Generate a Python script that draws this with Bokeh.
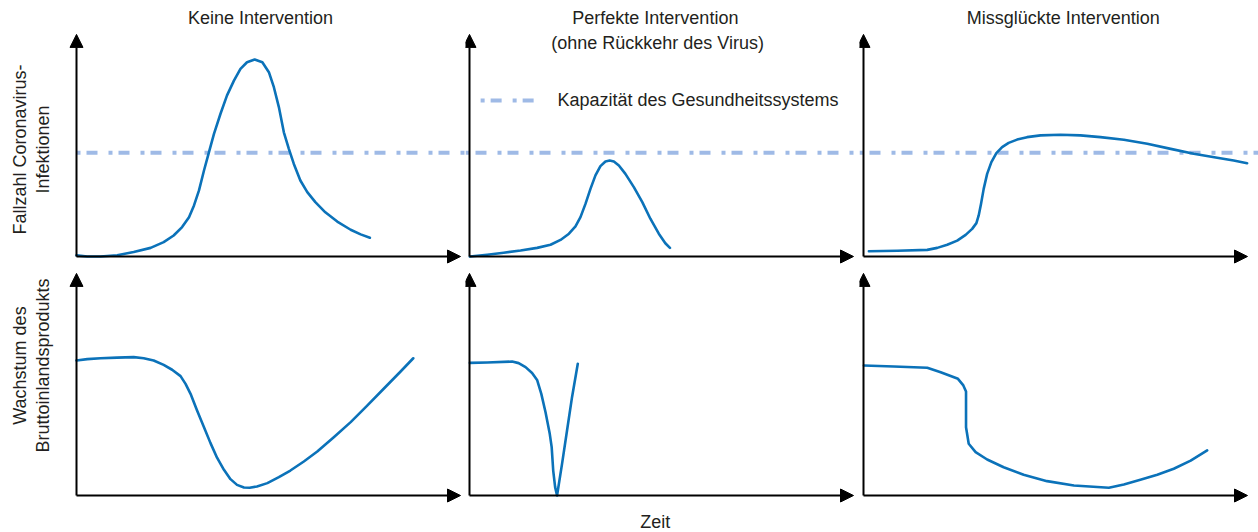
import numpy as np
from bokeh.plotting import figure
from bokeh.layouts import column, row
from bokeh.models import Range1d, Arrow, NormalHead
from bokeh.core.properties import value
from bokeh.embed import file_html
from bokeh.resources import INLINE

# ---------------- data (normalised: x = time 0..1, y = level 0..1) ----------------
titles_top = ["Keine Intervention", "Perfekte Intervention", "Missglückte Intervention"]
title2_line2 = "(ohne Rückkehr des Virus)"
ylabel_top = ["Fallzahl Coronavirus-", "Infektionen"]
ylabel_bottom = ["Wachstum des", "Bruttoinlandsprodukts"]
xlabel = "Zeit"
legend_text = "Kapazität des Gesundheitssystems"
capacity_level = 0.47

# infections
inf1_x = [0.0, 0.028, 0.0625, 0.106, 0.149, 0.193, 0.227, 0.253, 0.275, 0.293, 0.306, 0.319,
          0.332, 0.345, 0.358, 0.375, 0.392, 0.41, 0.427, 0.444, 0.464, 0.484, 0.501, 0.514,
          0.527, 0.54, 0.553, 0.566, 0.583, 0.601, 0.622, 0.648, 0.679, 0.714, 0.74, 0.764]
inf1_y = [0.005, 0.0, 0.0, 0.006, 0.02, 0.039, 0.065, 0.095, 0.133, 0.178, 0.231, 0.299,
          0.389, 0.472, 0.555, 0.646, 0.729, 0.796, 0.849, 0.879, 0.891, 0.879, 0.834, 0.766,
          0.676, 0.562, 0.487, 0.419, 0.344, 0.291, 0.246, 0.2, 0.158, 0.121, 0.1, 0.085]
inf2_x = [0.001, 0.046, 0.089, 0.133, 0.176, 0.211, 0.237, 0.259, 0.276, 0.289, 0.302, 0.315,
          0.328, 0.341, 0.354, 0.365, 0.376, 0.389, 0.406, 0.428, 0.45, 0.471, 0.493, 0.51, 0.522]
inf2_y = [0.0, 0.008, 0.017, 0.027, 0.039, 0.053, 0.075, 0.103, 0.136, 0.178, 0.238, 0.306,
          0.367, 0.409, 0.43, 0.434, 0.43, 0.412, 0.374, 0.314, 0.246, 0.171, 0.103, 0.06, 0.039]
inf3_x = [0.014, 0.088, 0.166, 0.192, 0.218, 0.244, 0.266, 0.283, 0.294, 0.3, 0.306, 0.313,
          0.322, 0.333, 0.346, 0.361, 0.378, 0.4, 0.426, 0.461, 0.513, 0.565, 0.617, 0.678,
          0.739, 0.8, 0.86, 0.921, 0.964, 0.999]
inf3_y = [0.024, 0.026, 0.03, 0.039, 0.053, 0.072, 0.098, 0.125, 0.151, 0.186, 0.238, 0.306,
          0.374, 0.427, 0.468, 0.495, 0.514, 0.529, 0.54, 0.548, 0.551, 0.548, 0.54, 0.528,
          0.51, 0.487, 0.465, 0.447, 0.434, 0.422]

# GDP growth
gdp1_x = [0.0, 0.028, 0.0625, 0.106, 0.149, 0.175, 0.201, 0.227, 0.249, 0.271, 0.284, 0.297,
          0.314, 0.332, 0.349, 0.366, 0.384, 0.401, 0.418, 0.436, 0.451, 0.47, 0.497, 0.527,
          0.557, 0.592, 0.627, 0.67, 0.714, 0.757, 0.8, 0.844, 0.877]
gdp1_y = [0.611, 0.617, 0.621, 0.624, 0.626, 0.621, 0.611, 0.591, 0.569, 0.54, 0.505, 0.46,
          0.385, 0.309, 0.237, 0.171, 0.116, 0.074, 0.048, 0.036, 0.035, 0.041, 0.056, 0.083,
          0.113, 0.154, 0.199, 0.264, 0.332, 0.407, 0.483, 0.561, 0.621]
gdp2_x = [0.001, 0.046, 0.111, 0.128, 0.146, 0.163, 0.176, 0.187, 0.198, 0.209, 0.214, 0.218,
          0.223, 0.228, 0.241, 0.254, 0.267, 0.282]
gdp2_y = [0.6, 0.602, 0.606, 0.599, 0.581, 0.554, 0.523, 0.46, 0.377, 0.279, 0.219, 0.113,
          0.038, 0.0, 0.143, 0.294, 0.445, 0.596]
gdp3_x = [0.001, 0.079, 0.166, 0.201, 0.246, 0.26, 0.267, 0.267, 0.267, 0.274, 0.292, 0.322,
          0.365, 0.417, 0.478, 0.548, 0.639, 0.678, 0.721, 0.765, 0.808, 0.852, 0.895]
gdp3_y = [0.588, 0.584, 0.578, 0.558, 0.528, 0.498, 0.471, 0.4, 0.309, 0.234, 0.196, 0.163,
          0.128, 0.094, 0.065, 0.045, 0.035, 0.05, 0.071, 0.094, 0.121, 0.158, 0.204]

inf_x = [inf1_x, inf2_x, inf3_x]
inf_y = [inf1_y, inf2_y, inf3_y]
gdp_x = [gdp1_x, gdp2_x, gdp3_x]
gdp_y = [gdp1_y, gdp2_y, gdp3_y]

# ---------------- layout / style ----------------
SX, SY = 384.0, 221.0
widths = [465, 394, 399]
origin_x = [76, 4, 4]
top_h, top_oy = 264, 256
bot_h, bot_oy = 268, 231

FONT = value("Liberation Sans")
FS = "18px"
TXT = "#231f20"
BLUE = "#0b72b9"
CAP = "#9fbae6"
DASH = "4 6 11 11"


def make_fig(w, h, ox, oy):
    p = figure(width=w, height=h, output_backend="svg", toolbar_location=None,
               x_range=Range1d(-ox / SX, (w - ox) / SX),
               y_range=Range1d(-(h - oy) / SY, oy / SY),
               x_axis_location=None, y_axis_location=None, min_border=0,
               title=None)
    p.outline_line_color = None
    p.grid.visible = False
    p.background_fill_color = "white"
    p.border_fill_color = "white"
    return p


def add_axes(p):
    p.add_layout(Arrow(end=NormalHead(size=13, fill_color="black", line_color="black"),
                       x_start=0, y_start=0, x_end=0, y_end=1.005,
                       line_color="black", line_width=2))
    p.add_layout(Arrow(end=NormalHead(size=13, fill_color="black", line_color="black"),
                       x_start=0, y_start=0, x_end=1.0, y_end=0,
                       line_color="black", line_width=2))


def txt(p, x, y, s, align="center", angle=0.0):
    p.text(x=[x], y=[y], text=[s], text_font=FONT, text_font_size=FS,
           text_color=TXT, text_align=align, text_baseline="middle", angle=angle)


top_figs, bot_figs = [], []
for i in range(3):
    # ---- top row: infections ----
    p = make_fig(widths[i], top_h, origin_x[i], top_oy)
    x0 = 0.0 if i == 0 else p.x_range.start
    p.line([x0, p.x_range.end], [capacity_level, capacity_level], line_color=CAP,
           line_width=4, line_dash=DASH)
    add_axes(p)
    p.line(inf_x[i], inf_y[i], line_color=BLUE, line_width=2.6, line_join="round", line_cap="round")
    top_figs.append(p)

    # ---- bottom row: GDP ----
    q = make_fig(widths[i], bot_h, origin_x[i], bot_oy)
    add_axes(q)
    q.line(gdp_x[i], gdp_y[i], line_color=BLUE, line_width=2.6, line_join="round", line_cap="round")
    bot_figs.append(q)

# titles
txt(top_figs[0], 0.479, 1.077, titles_top[0])
txt(top_figs[1], 0.484, 1.077, titles_top[1])
txt(top_figs[1], 0.490, 0.968, title2_line2)
txt(top_figs[2], 0.52, 1.077, titles_top[2])

# legend in middle panel
top_figs[1].line([0.029, 0.185], [0.706, 0.706], line_color=CAP, line_width=4, line_dash=DASH)
txt(top_figs[1], 0.229, 0.706, legend_text, align="left")

# y labels
txt(top_figs[0], -0.146, 0.484, ylabel_top[0], angle=np.pi / 2)
txt(top_figs[0], -0.086, 0.484, ylabel_top[1], angle=np.pi / 2)
txt(bot_figs[0], -0.146, 0.588, ylabel_bottom[0], angle=np.pi / 2)
txt(bot_figs[0], -0.086, 0.588, ylabel_bottom[1], angle=np.pi / 2)

# x label
txt(bot_figs[1], 0.484, -0.118, xlabel)

layout = column(row(*top_figs), row(*bot_figs))
open("out.html", "w").write(file_html(layout, INLINE))
